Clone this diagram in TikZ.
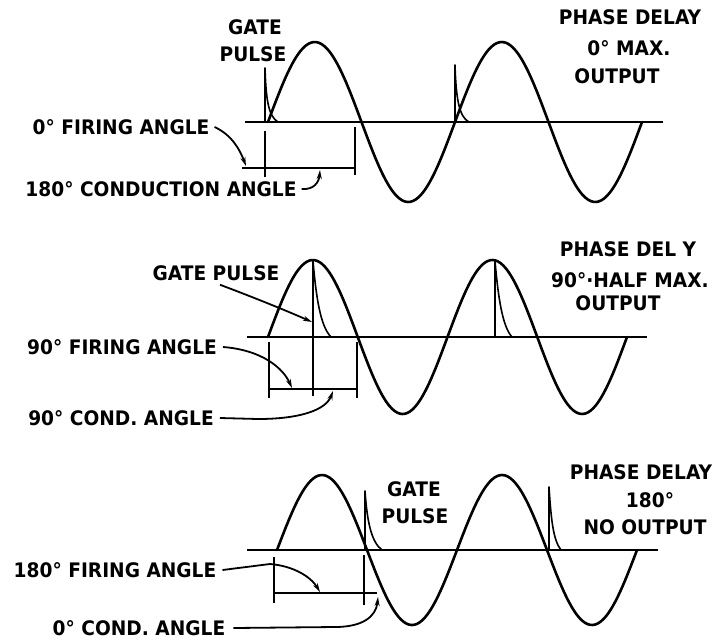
\documentclass[tikz,border=0pt]{standalone}
\usepackage{fontspec}
\setmainfont{DejaVu Sans}
\newfontfamily\lblfont{DejaVu Sans}[FakeStretch=0.93]
\usetikzlibrary{arrows.meta}
\begin{document}
\begin{tikzpicture}[x=1pt,y=-1pt,
  lbl/.style={font=\lblfont\bfseries\fontsize{20}{22}\selectfont, inner sep=0pt},
  wave/.style={line width=2.6pt, line join=round, line cap=round},
  axisline/.style={line width=2.2pt},
  brk/.style={line width=1.6pt},
  pulseline/.style={line width=1.6pt, line join=round},
  lead/.style={line width=1.8pt, -{Stealth[length=9pt,width=5pt]}}]
\useasboundingbox (0,0) rectangle (719,640);

% ---------------- top panel ----------------
\draw[axisline] (245,122) -- (663,122);
\draw[wave] plot[domain=268:642, samples=140, smooth] (\x, {122-80*sin((\x-268)/187*360)});
\draw[pulseline] (265,122) -- (265,68) .. controls (266,98) and (268,116) .. (278,122);
\draw[pulseline] (455,122) -- (455,65) .. controls (456,98) and (459,117) .. (469,122);
\draw[brk] (265,131) -- (265,177);
\draw[brk] (355,127) -- (355,175);
\draw[brk] (242,168) -- (355,168);
\coordinate (tf1) at (246,166);
\coordinate (tc1) at (320,170);

\node[lbl] (g1a) at (255,27) {GATE};
\node[lbl] (g1b) at (253,54) {PULSE};
\node[lbl] (fa1) at (121,127) {0° FIRING ANGLE};
\node[lbl] (ca1) at (161,189) {180° CONDUCTION ANGLE};
\node[lbl] (p1a) at (630,17) {PHASE DELAY};
\node[lbl] (p1b) at (629,48) {0° MAX.};
\node[lbl] (p1c) at (617,76) {OUTPUT};

\draw[lead] ([xshift=5pt]fa1.east) .. controls (232,135) and (240,150) .. (tf1);
\draw[lead] ([xshift=5pt]ca1.east) .. controls (314,190) and (319,182) .. (tc1);

% ---------------- middle panel ----------------
\draw[axisline] (247,337) -- (647,337);
\draw[wave] plot[domain=268:627, samples=140, smooth] (\x, {337-77*sin((\x-268)/179.5*360)});
\draw[pulseline] (313,337) -- (313,261) .. controls (316,295) and (320,326) .. (331,337);
\draw[pulseline] (495,337) -- (495,261) .. controls (498,295) and (502,326) .. (512,337);
\draw[brk] (269,342) -- (269,398);
\draw[brk] (313,337) -- (313,396);
\draw[brk] (357,342) -- (357,398);
\draw[brk] (268,389) -- (357,389);
\coordinate (tg2) at (312,322);
\coordinate (tf2) at (292,388);
\coordinate (tc2) at (333,391);

\node[lbl] (gp2) at (216,273) {GATE PULSE};
\node[lbl] (fa2) at (122,347) {90° FIRING ANGLE};
\node[lbl] (ca2) at (121,418) {90° COND. ANGLE};
\node[lbl] (p2a) at (628,249) {PHASE DEL Y};
\node[lbl] (p2b) at (630,280) {90°·HALF MAX.};
\node[lbl] (p2c) at (618,303) {OUTPUT};

\draw[lead] ([shift={(4,4)}]gp2.south) .. controls (250,296) and (285,310) .. (tg2);
\draw[lead] ([xshift=6pt]fa2.east) .. controls (262,350) and (283,368) .. (tf2);
\draw[lead] ([xshift=6pt]ca2.east) -- (258,419) .. controls (300,419) and (326,410) .. (tc2);

% ---------------- bottom panel ----------------
\draw[axisline] (247,550) -- (658,550);
\draw[wave] plot[domain=277:637, samples=140, smooth] (\x, {550-75*sin((\x-277)/180*360)});
\draw[pulseline] (365,550) -- (365,491) .. controls (367,520) and (371,542) .. (382,550);
\draw[pulseline] (549,550) -- (549,487) .. controls (551,518) and (553,540) .. (561,550);
\draw[brk] (274,557) -- (274,603);
\draw[brk] (364,555) -- (364,605);
\draw[brk] (274,593) -- (377,593);
\coordinate (tf3) at (320,592);
\coordinate (tc3) at (378,597);

\node[lbl] (fa3) at (115,570) {180° FIRING ANGLE};
\node[lbl] (ca3) at (139,628) {0° COND. ANGLE};
\node[lbl] (g3a) at (414,489) {GATE};
\node[lbl] (g3b) at (415,516) {PULSE};
\node[lbl] (p3a) at (641,472) {PHASE DELAY};
\node[lbl] (p3b) at (650,500) {180°};
\node[lbl] (p3c) at (645,527) {NO OUTPUT};

\draw[lead] ([xshift=6pt]fa3.east) -- (270,564) .. controls (294,566) and (311,577) .. (tf3);
\draw[lead] ([xshift=8pt]ca3.east) -- (335,627) .. controls (362,627) and (376,617) .. (tc3);
\end{tikzpicture}
\end{document}
